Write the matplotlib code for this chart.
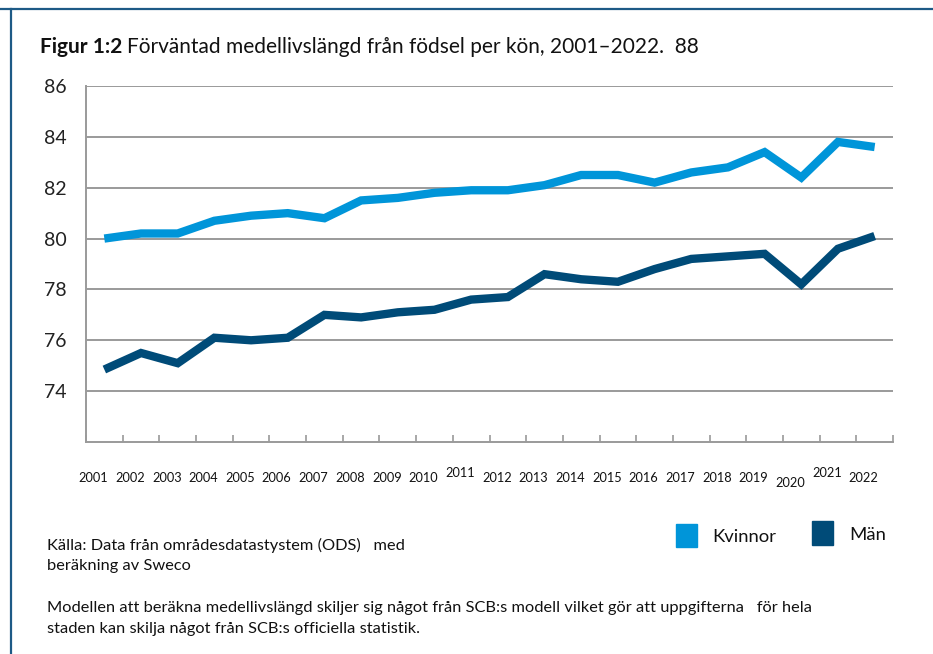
import matplotlib
matplotlib.use("Agg")
import matplotlib.pyplot as plt
from matplotlib.patches import Rectangle
from matplotlib.lines import Line2D
import matplotlib.transforms as mtransforms

years = [str(y) for y in range(2001, 2023)]
kvinnor = [80.0, 80.2, 80.2, 80.7, 80.9, 81.0, 80.8, 81.5, 81.6, 81.8, 81.9,
           81.9, 82.1, 82.5, 82.5, 82.2, 82.6, 82.8, 83.4, 82.4, 83.8, 83.6]
man = [74.85, 75.5, 75.1, 76.1, 76.0, 76.1, 77.0, 76.9, 77.1, 77.2, 77.6,
       77.7, 78.6, 78.4, 78.3, 78.8, 79.2, 79.3, 79.4, 78.2, 79.6, 80.1]
yticks = [74, 76, 78, 80, 82, 84, 86]

C_K = "#0095d9"
C_M = "#004b78"
FONT = "Lato"

W, H = 933, 654
fig = plt.figure(figsize=(W / 100, H / 100), dpi=100)
fig.patch.set_facecolor("white")

# frame lines (top and left)
fig.add_artist(Line2D([0, 1], [1 - 9 / H, 1 - 9 / H], transform=fig.transFigure,
                      color="#1d5a86", lw=1.6))
fig.add_artist(Line2D([11 / W, 11 / W], [0, 1 - 9 / H], transform=fig.transFigure,
                      color="#1d5a86", lw=1.6))

ax = fig.add_axes([86 / W, 1 - 442 / H, (893 - 86) / W, (442 - 86) / H])
x = list(range(len(years)))
ax.plot(x, kvinnor, color=C_K, lw=6.0, solid_capstyle="butt", solid_joinstyle="miter", zorder=3)
ax.plot(x, man, color=C_M, lw=6.0, solid_capstyle="butt", solid_joinstyle="miter", zorder=3)

ax.set_xlim(-0.5, len(years) - 0.5)
ax.set_ylim(72, 86)
ax.set_yticks(yticks)
ax.set_yticklabels([str(v) for v in yticks], fontsize=14, family=FONT, color="#222222")
ax.tick_params(axis="y", length=0, pad=14)
for v in yticks:
    ax.axhline(v, color="#9a9a9a", lw=1.4, zorder=1)

ax.set_xticks([i - 0.5 for i in range(len(years) + 1)])
ax.set_xticklabels([])
ax.tick_params(axis="x", direction="in", length=5, width=1.2, color="#9a9a9a")

for s in ["top", "right"]:
    ax.spines[s].set_visible(False)
for s in ["left", "bottom"]:
    ax.spines[s].set_color("#9a9a9a")
    ax.spines[s].set_linewidth(1.4)

trans = mtransforms.blended_transform_factory(ax.transData, fig.transFigure)
for i, lab in enumerate(years):
    dy = 0
    if lab in ("2011", "2021"):
        dy = 5
    elif lab == "2020":
        dy = -5
    ax.text(i - 0.3, 1 - (478 - dy) / H, lab, transform=trans, ha="center", va="center",
            fontsize=9.2, family=FONT, color="#111111")

# title
t1 = fig.text(40 / W, 1 - 47 / H, "Figur 1:2", fontsize=15, family=FONT, fontweight="bold",
              va="center", ha="left", color="#111111")
fig.canvas.draw()
bb = t1.get_window_extent(renderer=fig.canvas.get_renderer())
fig.text((bb.x1 + 5) / W, 1 - 47 / H,
         "Förväntad medellivslängd från födsel per kön, 2001–2022.  88",
         fontsize=15, family=FONT, va="center", ha="left", color="#111111")

# legend
fig.add_artist(Rectangle((676 / W, 1 - 547 / H), 21 / W, 23 / H, transform=fig.transFigure,
                         color=C_K))
fig.text(712 / W, 1 - 537 / H, "Kvinnor", fontsize=13.3, family=FONT, va="center", color="#111111")
fig.add_artist(Rectangle((812 / W, 1 - 545 / H), 21 / W, 24 / H, transform=fig.transFigure,
                         color=C_M))
fig.text(849 / W, 1 - 535 / H, "Män", fontsize=13.3, family=FONT, va="center", color="#111111")

# notes
NS = 11.8
fig.text(47 / W, 1 - 545 / H, "Källa: Data från områdesdatastystem (ODS)   med",
         fontsize=NS, family=FONT, va="center", color="#111111")
fig.text(47 / W, 1 - 566 / H, "beräkning av Sweco",
         fontsize=NS, family=FONT, va="center", color="#111111")
fig.text(47 / W, 1 - 608 / H,
         "Modellen att beräkna medellivslängd skiljer sig något från SCB:s modell vilket gör att uppgifterna   för hela",
         fontsize=NS, family=FONT, va="center", color="#111111")
fig.text(47 / W, 1 - 629 / H, "staden kan skilja något från SCB:s officiella statistik.",
         fontsize=NS, family=FONT, va="center", color="#111111")

fig.savefig("out.png", dpi=100, facecolor="white")
